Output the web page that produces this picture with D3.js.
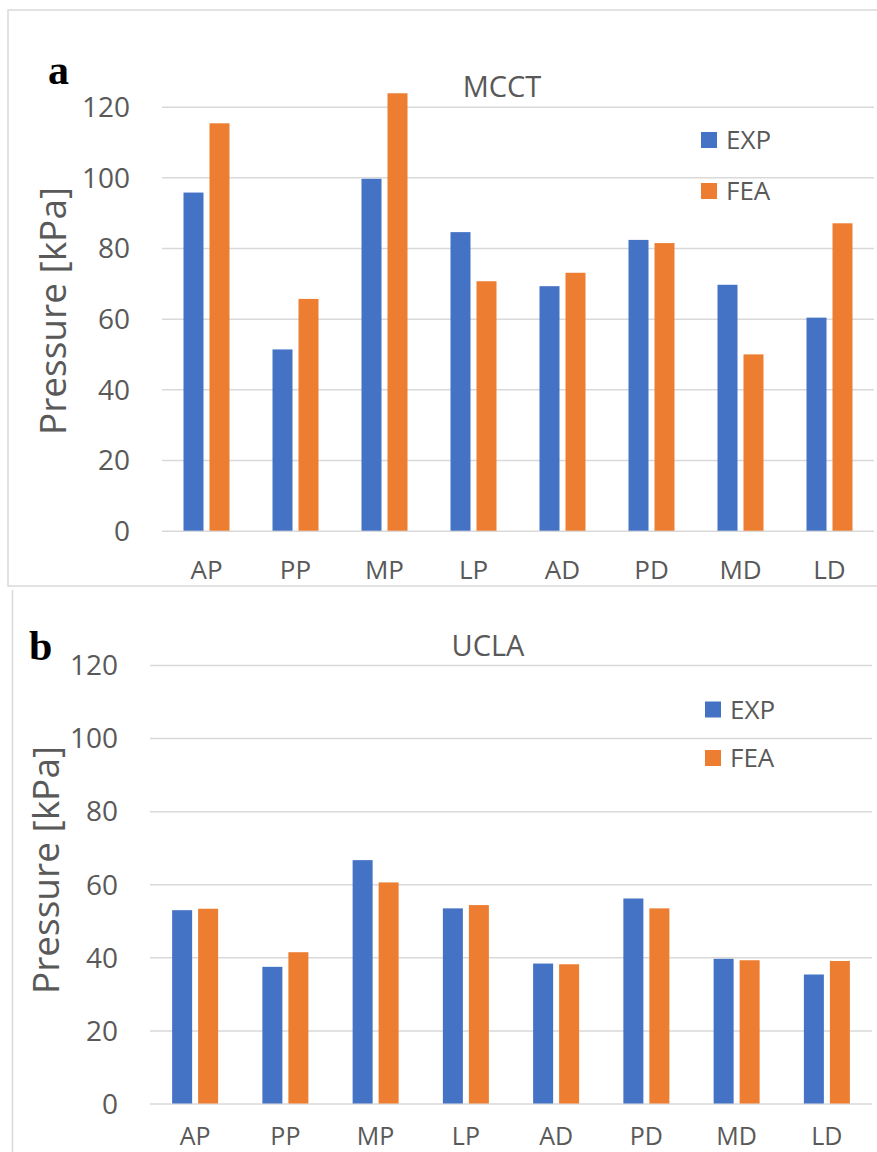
<!DOCTYPE html>
<html>
<head>
<meta charset="utf-8">
<script src="https://cdn.jsdelivr.net/npm/d3@7"></script>
<style>
  html, body { margin: 0; padding: 0; background: #fff; }
  svg { display: block; }
  text { font-family: "Open Sans", "Noto Sans", sans-serif; fill: #595959; }
</style>
</head>
<body>
<svg id="chart" width="877" height="1152"></svg>
<script>
// Contact pressure per region, experiment vs. finite element analysis
const categories = ["AP", "PP", "MP", "LP", "AD", "PD", "MD", "LD"];
const series = ["EXP", "FEA"];
const mcctExp = [95.7, 51.3, 99.6, 84.5, 69.2, 82.3, 69.6, 60.3];
const mcctFea = [115.3, 65.6, 123.8, 70.6, 73.0, 81.4, 49.9, 87.0];
const uclaExp = [52.9, 37.4, 66.6, 53.4, 38.3, 56.1, 39.6, 35.3];
const uclaFea = [53.3, 41.4, 60.5, 54.3, 38.1, 53.4, 39.2, 39.0];
const yTicks = [0, 20, 40, 60, 80, 100, 120];
const seriesColors = ["#4472C4", "#ED7D31"];

const svg = d3.select("#chart");

// panel frames
svg.append("rect")
  .attr("x", 8).attr("y", 10).attr("width", 900).attr("height", 576)
  .attr("fill", "none").attr("stroke", "#d9d9d9").attr("stroke-width", 1.5);
svg.append("line")
  .attr("x1", 12.5).attr("x2", 12.5).attr("y1", 590).attr("y2", 1152)
  .attr("stroke", "#d9d9d9").attr("stroke-width", 1.5);

function drawPanel(cfg) {
  const g = svg.append("g");
  const y = d3.scaleLinear().domain([0, 120]).range([cfg.y0, cfg.y120]);
  const x0 = d3.scaleBand().domain(categories).range([cfg.xLeft, cfg.xRight]);
  const bw = x0.bandwidth();
  const pair = 46;
  const x1 = d3.scaleBand().domain(series)
    .range([(bw - pair) / 2, (bw + pair) / 2]).paddingInner(0.2308);

  // gridlines + y tick labels
  const yAxis = d3.axisLeft(y).tickValues(yTicks)
    .tickSize(-(cfg.xRight - cfg.xLeft)).tickPadding(cfg.xLeft - cfg.labelRight);
  const ya = g.append("g").attr("transform", `translate(${cfg.xLeft},0)`).call(yAxis);
  ya.select(".domain").remove();
  ya.selectAll(".tick line").attr("stroke", "#d9d9d9").attr("stroke-width", 1.5);
  ya.selectAll(".tick text")
    .style("font-family", '"Open Sans", sans-serif')
    .attr("font-size", 28).attr("fill", "#595959").attr("dy", "0.35em");

  // bars
  const values = [cfg.exp, cfg.fea];
  const groups = g.selectAll("g.cat").data(categories).join("g")
    .attr("class", "cat")
    .attr("transform", d => `translate(${x0(d)},0)`);
  groups.selectAll("rect")
    .data((d, i) => series.map((s, k) => ({ s, k, v: values[k][i] })))
    .join("rect")
    .attr("x", d => x1(d.s))
    .attr("width", x1.bandwidth())
    .attr("y", d => y(d.v))
    .attr("height", d => y(0) - y(d.v))
    .attr("fill", d => seriesColors[d.k]);

  // category labels
  const xAxis = d3.axisBottom(x0).tickSize(0).tickPadding(0);
  const xa = g.append("g").attr("transform", `translate(0,${cfg.catY})`).call(xAxis);
  xa.select(".domain").remove();
  xa.selectAll(".tick text")
    .style("font-family", '"Open Sans", sans-serif')
    .attr("font-size", cfg.catSize).attr("fill", "#595959").attr("dy", "0.35em").attr("y", 0);

  // title
  g.append("text").attr("x", cfg.titleX).attr("y", cfg.titleY)
    .attr("text-anchor", "middle").attr("dy", "0.35em")
    .attr("font-size", 29).text(cfg.title);

  // y axis title
  g.append("text")
    .attr("transform", `translate(${cfg.axisTitleX},${cfg.axisTitleY}) rotate(-90)`)
    .attr("text-anchor", "middle").attr("dy", "0.35em")
    .attr("font-size", 37).text("Pressure [kPa]");

  // panel letter
  g.append("text").attr("x", cfg.letterX).attr("y", cfg.letterY)
    .style("font-family", '"Liberation Serif", "Times New Roman", serif')
    .style("fill", "#000").attr("font-weight", "bold")
    .attr("font-size", 42).text(cfg.letter);

  // legend
  const lg = g.append("g").attr("transform", `translate(${cfg.legendX},${cfg.legendY})`);
  series.forEach((s, k) => {
    lg.append("rect").attr("x", 0).attr("y", k * cfg.legendStep - 8)
      .attr("width", 16).attr("height", 16).attr("fill", seriesColors[k]);
    lg.append("text").attr("x", 25).attr("y", k * cfg.legendStep)
      .attr("dy", "0.35em").attr("font-size", 26).text(s);
  });
}

drawPanel({
  exp: mcctExp, fea: mcctFea, title: "MCCT", letter: "a",
  xLeft: 162, xRight: 874, y0: 530.7, y120: 106.7, labelRight: 130,
  catY: 570, catSize: 26, titleX: 502, titleY: 87,
  axisTitleX: 53, axisTitleY: 311, letterX: 48, letterY: 84,
  legendX: 701, legendY: 140, legendStep: 51
});

drawPanel({
  exp: uclaExp, fea: uclaFea, title: "UCLA", letter: "b",
  xLeft: 150, xRight: 872, y0: 1103.5, y120: 665, labelRight: 118,
  catY: 1136, catSize: 25, titleX: 488, titleY: 646,
  axisTitleX: 46, axisTitleY: 870, letterX: 29, letterY: 660,
  legendX: 705, legendY: 709.5, legendStep: 48.5
});
</script>
</body>
</html>
